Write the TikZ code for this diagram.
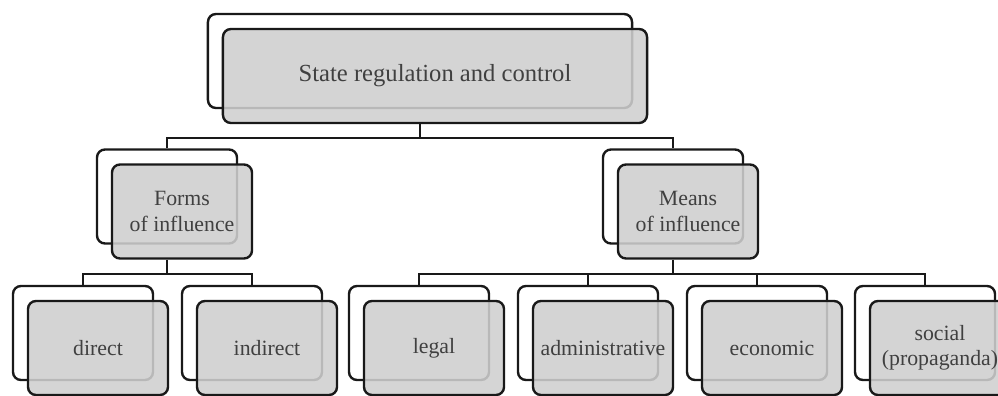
\documentclass[tikz,border=0pt]{standalone}
\usepackage{fontspec}
\setmainfont{Liberation Serif}
\usetikzlibrary{calc}

\tikzset{
    backbox/.style={draw=black!90, line width=0.06cm, rounded corners=0.2cm, fill=white,
        minimum width=3.5cm, minimum height=2.35cm, inner sep=0pt},
    frontbox/.style={backbox, fill=gray!38, fill opacity=0.88, text opacity=1, text=black!75,
        align=center, font=\fontsize{15.5}{18}\selectfont},
    link/.style={draw=black!90, line width=0.06cm},
}

\begin{document}
\begin{tikzpicture}[x=0.025cm,y=-0.025cm]
    \useasboundingbox (0,0) rectangle (998,395);
    \clip (0,0) rectangle (998,395);

    \node[backbox, minimum width=10.6cm] (state-b) at (420,61) {};
    \node[frontbox, minimum width=10.6cm, font=\fontsize{17.5}{20}\selectfont] (state) at ($(state-b)+(15,15)$) {State regulation and control};

    \node[backbox] (forms-b) at (167,196.5) {};
    \node[frontbox] (forms) at ($(forms-b)+(15,15)$) {Forms\\of influence};
    \node[backbox] (means-b) at (673,196.5) {};
    \node[frontbox] (means) at ($(means-b)+(15,15)$) {Means\\of influence};

    \foreach \name/\x/\txt in {direct/83/direct, indirect/252/indirect, legal/419/legal,
        admin/588/administrative, econ/757/economic, social/925/{social\\(propaganda)}} {
        \node[backbox] (\name-b) at (\x,333) {};
        \node[frontbox] (\name) at ($(\name-b)+(15,15)$) {\txt};
    }

    \draw[link] (state-b.south |- state.south) -- ++(0,14) coordinate (state-j);
    \draw[link] (forms-b.north) |- (state-j) -| (means-b.north);

    \draw[link] (forms-b.south |- forms.south) -- ++(0,14.5) coordinate (forms-j);
    \draw[link] (direct-b.north) |- (forms-j) -| (indirect-b.north);

    \draw[link] (means-b.south |- means.south) -- ++(0,14.5) coordinate (means-j);
    \draw[link] (legal-b.north) |- (means-j) -| (social-b.north);
    \draw[link] (admin-b.north) -- (admin-b.north |- means-j);
    \draw[link] (econ-b.north) -- (econ-b.north |- means-j);
\end{tikzpicture}
\end{document}
